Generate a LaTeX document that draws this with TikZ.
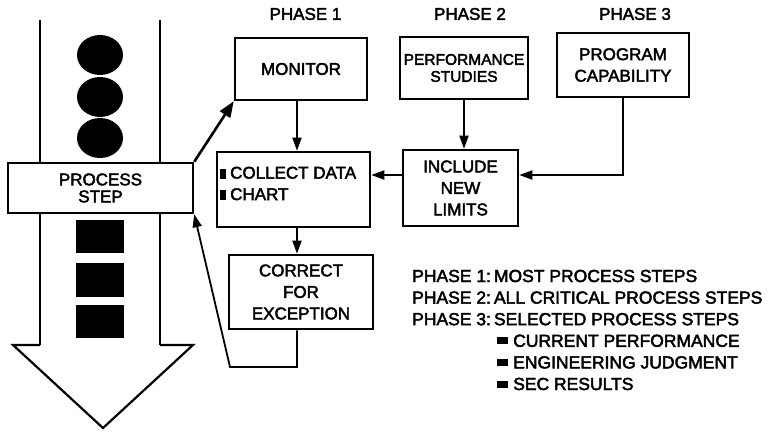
\documentclass[tikz,border=0pt]{standalone}
\usepackage{fontspec}
\setmainfont{Liberation Sans}[FakeBold=2.5]
\usetikzlibrary{arrows.meta}
\begin{document}
\begin{tikzpicture}[x=1pt,y=-1pt,
  box/.style={draw,line width=2.5pt,inner sep=0pt,fill=white},
  lbl/.style={font=\fontsize{17}{21.5}\selectfont,align=center},
  tight/.style={font=\fontsize{17}{17}\selectfont,align=center},
  conn/.style={line width=1.8pt},
  arr/.style={conn,-{Triangle[length=13pt,width=9pt]}},
  bigarr/.style={line width=2.6pt,-{Triangle[length=16pt,width=12pt]}},
  ]
\useasboundingbox (0,0) rectangle (772,433);

% the big downward process arrow
\draw[line width=2pt] (40,20) -- (40,163) (40,213) -- (40,345)
                      (160,20) -- (160,163) (160,213) -- (160,345);
\draw[line width=2.2pt,line join=miter] (40,345) -- (13,345) -- (103,428) -- (193,345) -- (160,345);

% parts flowing through the process
\fill (100,55) ellipse [x radius=23pt, y radius=20pt];
\fill (100,97) ellipse [x radius=23pt, y radius=20pt];
\fill (100,138) ellipse [x radius=23pt, y radius=20pt];
\fill (76,220) rectangle (124,253);
\fill (76,263) rectangle (124,297);
\fill (76,305) rectangle (124,338);

% boxes
\node[box,tight,minimum width=185pt,minimum height=50pt] (ps) at (100.5,188) {PROCESS\\STEP};
\node[box,lbl,minimum width=132pt,minimum height=62pt] (mon) at (301,69) {MONITOR};
\node[box,minimum width=153pt,minimum height=75pt] (col) at (293.5,189.5) {};
\node[lbl,align=left,anchor=west,inner sep=0pt] (coltxt) at (220,183.5)
  {\rule[0pt]{6pt}{10pt}\hspace{4pt}COLLECT DATA\\\rule[0pt]{6pt}{10pt}\hspace{4pt}CHART};
\node[box,lbl,minimum width=144pt,minimum height=74pt] (cor) at (301,292) {CORRECT\\FOR\\EXCEPTION};
\node[box,minimum width=128pt,minimum height=62pt,font=\fontsize{15.5}{17}\selectfont,align=center] (perf) at (464,68) {PERFORMANCE\\STUDIES};
\node[box,lbl,minimum width=115pt,minimum height=76pt] (inc) at (460.5,188) {INCLUDE\\NEW\\LIMITS};
\node[box,lbl,minimum width=132pt,minimum height=64pt] (prog) at (623,65) {PROGRAM\\CAPABILITY};

% phase headings
\node[lbl] (ph1) at (305.5,14) {PHASE 1};
\node[lbl] (ph2) at (470,14) {PHASE 2};
\node[lbl] (ph3) at (635,14) {PHASE 3};

% legend
\node[anchor=west,inner sep=0pt,align=left,font=\fontsize{17.5}{21.6}\selectfont] (legend) at (412,330)
  {PHASE 1:\hspace{3pt}MOST PROCESS STEPS\\
   PHASE 2:\hspace{3pt}ALL CRITICAL PROCESS STEPS\\
   PHASE 3:\hspace{3pt}SELECTED PROCESS STEPS\\
   \hspace*{85pt}\rule[2.5pt]{11pt}{7pt}\hspace{5pt}CURRENT PERFORMANCE\\
   \hspace*{85pt}\rule[2.5pt]{11pt}{7pt}\hspace{5pt}ENGINEERING JUDGMENT\\
   \hspace*{85pt}\rule[2.5pt]{11pt}{7pt}\hspace{5pt}SEC RESULTS};

% connectors
\coordinate (ax) at (297,0);
\coordinate (hl) at (0,175);
\coordinate (fb) at (230,367);
\draw[bigarr] (ps.north east) -- (mon.south west);
\draw[arr] (ax |- mon.south) -- (ax |- col.north);
\draw[arr] (ax |- col.south) -- (ax |- cor.north);
\draw[arr] (perf.south) -- (perf.south |- inc.north);
\draw[arr] (hl -| inc.west) -- (hl -| col.east);
\draw[arr] (prog.south) -- (prog.south |- hl) -- (hl -| inc.east);
\draw[arr] (ax |- cor.south) -- (ax |- fb) -- (fb) -- (ps.south east);
\end{tikzpicture}
\end{document}
